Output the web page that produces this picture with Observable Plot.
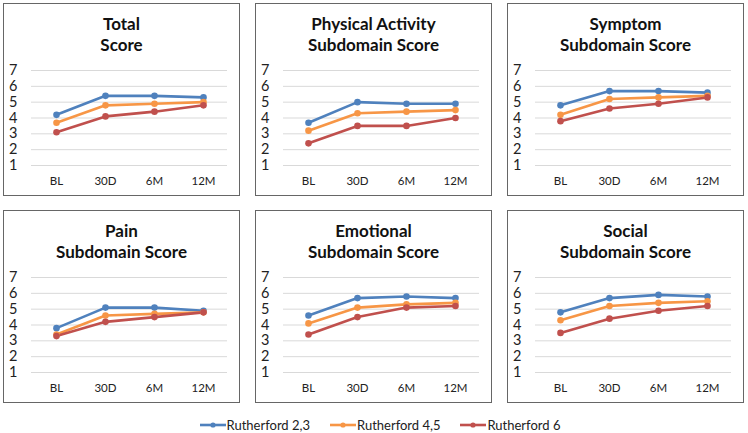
<!DOCTYPE html>
<html>
<head>
<meta charset="utf-8">
<script src="https://cdn.jsdelivr.net/npm/d3@7"></script>
<script src="https://cdn.jsdelivr.net/npm/@observablehq/plot@0.6"></script>
<style>
  html, body { margin: 0; padding: 0; background: #fff; }
  body { width: 748px; height: 433px; position: relative; overflow: hidden; font-family: Lato, "Open Sans", sans-serif; }
  .panel { position: absolute; width: 235px; height: 191px; border: 1.5px solid #666; box-sizing: content-box; }
  .panel svg { position: absolute; left: 0; top: 0; }
  .title { position: absolute; left: 0; width: 100%; text-align: center; font-weight: bold; font-size: 17px; color: #111; line-height: 21px; top: 9px; }
  .legend { position: absolute; top: 417px; left: 6px; width: 748px; display: flex; justify-content: center; font-size: 13px; color: #222; }
  .legend .item { display: flex; align-items: center; margin: 0 10px; }
  .legend svg { margin-right: 1px; }
</style>
</head>
<body>
<script>
const times = ["BL", "30D", "6M", "12M"];
const groups = ["Rutherford 2,3", "Rutherford 4,5", "Rutherford 6"];
const colors = ["#4f81bd", "#f79646", "#c0504d"];
const yTicks = [1, 2, 3, 4, 5, 6, 7];

const titles = [
  ["Total", "Score"],
  ["Physical Activity", "Subdomain Score"],
  ["Symptom", "Subdomain Score"],
  ["Pain", "Subdomain Score"],
  ["Emotional", "Subdomain Score"],
  ["Social", "Subdomain Score"]
];

// values per group (Rutherford 2,3 / 4,5 / 6) at BL, 30D, 6M, 12M
const totalScore     = [[4.2, 5.4, 5.4, 5.3], [3.7, 4.8, 4.9, 5.0], [3.1, 4.1, 4.4, 4.8]];
const physicalScore  = [[3.7, 5.0, 4.9, 4.9], [3.2, 4.3, 4.4, 4.5], [2.4, 3.5, 3.5, 4.0]];
const symptomScore   = [[4.8, 5.7, 5.7, 5.6], [4.2, 5.2, 5.3, 5.4], [3.8, 4.6, 4.9, 5.3]];
const painScore      = [[3.8, 5.1, 5.1, 4.9], [3.4, 4.6, 4.7, 4.8], [3.3, 4.2, 4.5, 4.8]];
const emotionalScore = [[4.6, 5.7, 5.8, 5.7], [4.1, 5.1, 5.3, 5.4], [3.4, 4.5, 5.1, 5.2]];
const socialScore    = [[4.8, 5.7, 5.9, 5.8], [4.3, 5.2, 5.4, 5.5], [3.5, 4.4, 4.9, 5.2]];

const panelValues = [totalScore, physicalScore, symptomScore, painScore, emotionalScore, socialScore];
const colLeft = [3, 255, 507];
const rowTop = [3, 210];

panelValues.forEach((vals, i) => {
  const data = [];
  vals.forEach((series, g) => series.forEach((v, t) => data.push({group: groups[g], time: times[t], value: v})));
  const panel = document.createElement("div");
  panel.className = "panel";
  panel.style.left = colLeft[i % 3] + "px";
  panel.style.top = rowTop[Math.floor(i / 3)] + "px";
  const title = document.createElement("div");
  title.className = "title";
  title.innerHTML = titles[i][0] + "<br>" + titles[i][1];
  const chart = Plot.plot({
    width: 235,
    height: 191,
    marginTop: 66,
    marginBottom: 30,
    marginLeft: 27,
    marginRight: 12,
    style: {fontFamily: "Lato, 'Open Sans', sans-serif", background: "transparent"},
    x: {type: "point", domain: times, padding: 0.5, label: null},
    y: {domain: [1, 7], label: null},
    color: {domain: groups, range: colors},
    marks: [
      Plot.gridY(yTicks, {stroke: "#d9d9d9", strokeOpacity: 1, strokeWidth: 1}),
      Plot.axisY(yTicks, {tickSize: 0, tickPadding: 14, fontSize: 14.5, fill: "#222", label: null}),
      Plot.axisX(times, {tickSize: 0, tickPadding: 11, fontSize: 11.5, fill: "#222", label: null}),
      Plot.line(data, {x: "time", y: "value", z: "group", stroke: "group", strokeWidth: 2.6}),
      Plot.dot(data, {x: "time", y: "value", fill: "group", r: 3.3})
    ]
  });
  panel.appendChild(chart);
  panel.appendChild(title);
  document.body.appendChild(panel);
});

const legend = document.createElement("div");
legend.className = "legend";
groups.forEach((g, i) => {
  const item = document.createElement("div");
  item.className = "item";
  item.innerHTML = `<svg width="26" height="10"><line x1="0" y1="5" x2="26" y2="5" stroke="${colors[i]}" stroke-width="2.6"/><circle cx="13" cy="5" r="2.6" fill="${colors[i]}"/></svg><span>${g}</span>`;
  legend.appendChild(item);
});
document.body.appendChild(legend);
</script>
</body>
</html>
